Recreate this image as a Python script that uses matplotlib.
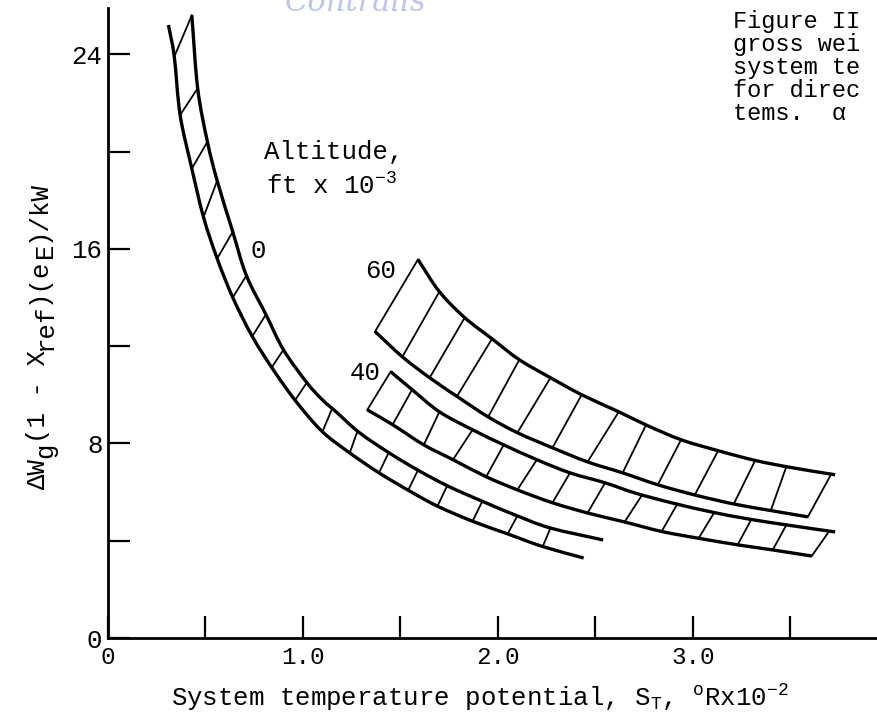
import numpy as np
import matplotlib
matplotlib.use("Agg")
import matplotlib.pyplot as plt
from matplotlib.path import Path
from matplotlib.patches import PathPatch

# ---- values ----
# x: system temperature potential S_T (deg R x 10^-2), y: dWg(1-Xref)(eE)/kW
alt0_lo_x = [0.31, 0.34, 0.37, 0.43, 0.49, 0.56, 0.64, 0.74, 0.85, 0.97, 1.10, 1.24,
             1.39, 1.55, 1.69, 1.87, 2.05, 2.23, 2.44]
alt0_lo_y = [25.2, 23.9, 21.5, 19.3, 17.3, 15.6, 14.0, 12.4, 11.0, 9.67, 8.48, 7.61,
             6.79, 6.03, 5.42, 4.80, 4.28, 3.76, 3.29]
alt0_hi_x = [0.43, 0.46, 0.51, 0.56, 0.64, 0.71, 0.81, 0.90, 1.02, 1.10, 1.17,
             1.29, 1.45, 1.59, 1.74, 1.92, 2.10, 2.27, 2.54]
alt0_hi_y = [25.6, 22.6, 20.4, 18.8, 16.7, 14.9, 13.3, 11.85, 10.5, 9.79, 9.30,
             8.44, 7.57, 6.90, 6.26, 5.62, 5.02, 4.52, 4.03]

alt60_lo_x = [1.37, 1.51, 1.65, 1.80, 1.95, 2.10, 2.28, 2.46, 2.64, 2.82, 3.01, 3.21, 3.40, 3.59]
alt60_lo_y = [12.6, 11.56, 10.7, 9.88, 9.09, 8.44, 7.82, 7.24, 6.79, 6.30, 5.88, 5.51, 5.24, 4.98]
alt60_hi_x = [1.59, 1.70, 1.83, 1.97, 2.11, 2.27, 2.43, 2.62, 2.76, 2.94, 3.13, 3.32, 3.51, 3.73]
alt60_hi_y = [15.56, 14.24, 13.17, 12.30, 11.44, 10.7, 10.0, 9.30, 8.76, 8.15, 7.70, 7.30, 7.00, 6.71]

alt40_lo_x = [1.33, 1.46, 1.62, 1.77, 1.94, 2.10, 2.28, 2.46, 2.65, 2.84, 3.03, 3.23, 3.41, 3.61]
alt40_lo_y = [9.38, 8.77, 7.94, 7.33, 6.63, 6.09, 5.56, 5.14, 4.77, 4.38, 4.10, 3.83, 3.62, 3.37]
alt40_hi_x = [1.45, 1.56, 1.70, 1.87, 2.03, 2.20, 2.37, 2.55, 2.70, 2.89, 3.09, 3.28, 3.48, 3.73]
alt40_hi_y = [10.95, 10.21, 9.30, 8.56, 7.94, 7.33, 6.79, 6.38, 5.97, 5.56, 5.19, 4.90, 4.65, 4.36]

# cross-hatch ties: x where each tie meets the lower and the upper boundary
alt0_tie_lo = [0.34, 0.37, 0.43, 0.49, 0.56, 0.64, 0.74, 0.84, 0.96, 1.10, 1.24, 1.39,
               1.54, 1.69, 1.87, 2.05, 2.23]
alt0_tie_hi = [0.43, 0.46, 0.51, 0.56, 0.64, 0.71, 0.81, 0.90, 1.02, 1.15, 1.28, 1.44,
               1.59, 1.74, 1.92, 2.10, 2.27]
alt60_tie_lo = [1.37, 1.51, 1.65, 1.79, 1.95, 2.10, 2.28, 2.46, 2.64, 2.82, 3.01, 3.21, 3.40, 3.59]
alt60_tie_hi = [1.59, 1.70, 1.83, 1.97, 2.11, 2.27, 2.43, 2.62, 2.76, 2.94, 3.13, 3.32, 3.48, 3.71]
alt40_tie_lo = [1.33, 1.46, 1.62, 1.77, 1.94, 2.10, 2.28, 2.46, 2.65, 2.84, 3.03, 3.23, 3.41, 3.61]
alt40_tie_hi = [1.45, 1.56, 1.70, 1.87, 2.03, 2.20, 2.37, 2.55, 2.74, 2.92, 3.11, 3.30, 3.48, 3.70]

xticks_major = [0, 0.5, 1.0, 1.5, 2.0, 2.5, 3.0, 3.5]
xtick_labels = ["0", "", "1.0", "", "2.0", "", "3.0", ""]
yticks_major = [0, 4, 8, 12, 16, 20, 24]
ytick_labels = ["0", "", "8", "", "16", "", "24"]

# y label typed with full size subscripts: (text, shifted down?)
ylabel_parts = [("\u0394W", 0), ("g", 1), ("(1 - X", 0), ("ref", 1), (")(e", 0), ("E", 1), (")/kW", 0)]
caption = ["Figure II", "gross wei", "system te", "for direc", "tems.  \u03b1"]

plt.rcParams['font.family'] = ['Liberation Mono', 'DejaVu Sans Mono']
plt.rcParams['mathtext.fontset'] = 'custom'
plt.rcParams['mathtext.rm'] = 'Liberation Mono'
plt.rcParams['mathtext.it'] = 'Liberation Mono'
plt.rcParams['mathtext.bf'] = 'Liberation Mono:bold'

W, H = 878, 715
fs = 18.5
fig = plt.figure(figsize=(W / 100, H / 100), dpi=100)
ax = fig.add_axes([108 / W, 77 / H, 770 / W, 630 / H])
ax.set_xlim(0, 3.95)
ax.set_ylim(0, 25.9)

lw_curve = 2.4
lw_tie = 1.3


def smooth(xs, ys):
    # Catmull-Rom curve through the read points, drawn as cubic Bezier pieces
    p = np.column_stack([xs, ys])
    ext = np.vstack([2 * p[0] - p[1], p, 2 * p[-1] - p[-2]])
    verts = [p[0]]
    codes = [Path.MOVETO]
    for i in range(1, len(ext) - 2):
        c1 = ext[i] + (ext[i + 1] - ext[i - 1]) / 6
        c2 = ext[i + 1] - (ext[i + 2] - ext[i]) / 6
        verts += [c1, c2, ext[i + 1]]
        codes += [Path.CURVE4] * 3
    return Path(verts, codes)


def band(lo_x, lo_y, hi_x, hi_y, tie_lo, tie_hi):
    for xs, ys in [(lo_x, lo_y), (hi_x, hi_y)]:
        ax.add_patch(PathPatch(smooth(xs, ys), fill=False, ec='black', lw=lw_curve,
                               capstyle='butt'))
    y_lo = np.interp(tie_lo, lo_x, lo_y)
    y_hi = np.interp(tie_hi, hi_x, hi_y)
    for a, b, c, d in zip(tie_lo, y_lo, tie_hi, y_hi):
        ax.plot([a, c], [b, d], color='black', lw=lw_tie)


band(alt0_lo_x, alt0_lo_y, alt0_hi_x, alt0_hi_y, alt0_tie_lo, alt0_tie_hi)
band(alt60_lo_x, alt60_lo_y, alt60_hi_x, alt60_hi_y, alt60_tie_lo, alt60_tie_hi)
band(alt40_lo_x, alt40_lo_y, alt40_hi_x, alt40_hi_y, alt40_tie_lo, alt40_tie_hi)

# curve labels
ax.text(0.77, 15.9, "0", fontsize=fs, ha='center', va='center')
ax.text(1.40, 15.1, "60", fontsize=fs, ha='center', va='center')
ax.text(1.32, 10.9, "40", fontsize=fs, ha='center', va='center')
ax.text(0.80, 20.0, "Altitude,", fontsize=fs, ha='left', va='center')
ax.text(0.81, 18.6, "ft x 10$^{-3}$", fontsize=fs, ha='left', va='center')

# axes styling
for s in ['top', 'right']:
    ax.spines[s].set_visible(False)
for s in ['left', 'bottom']:
    ax.spines[s].set_linewidth(2.0)
ax.set_xticks(xticks_major)
ax.set_xticklabels(xtick_labels)
ax.set_yticks(yticks_major)
ax.set_yticklabels(ytick_labels)
ax.tick_params(direction='in', length=16, width=1.6, labelsize=17.5, pad=6)
ax.tick_params(axis='y', labelsize=fs, pad=4)

fig.text(480 / W, 1 - 698 / H,
         "System temperature potential, S$_\\mathrm{T}$, $^\\mathrm{o}$Rx10$^{-2}$",
         fontsize=fs, ha='center', va='center')

# rotated y label, laid out one typed piece at a time
adv = 0.6 * fs * 100 / 72
n_chars = sum(len(t) for t, _ in ylabel_parts)
y0 = 335 + n_chars * adv / 2          # pixel row where the label starts (bottom)
k = 0
for t, sub in ylabel_parts:
    fig.text((45 + 7 * sub) / W, 1 - (y0 - k * adv) / H, t, fontsize=fs, rotation=90,
             rotation_mode='anchor', ha='left', va='baseline')
    k += len(t)

# caption fragment cut by the page edge
fig.text(733 / W, 1 - 10 / H, "\n".join(caption), fontsize=17, ha='left', va='top',
         linespacing=1.0)

# watermark
fig.text(0.405, 0.997, "Contrails", fontsize=22, style='italic',
         color='#bcc4f0', ha='center', va='center', family='DejaVu Serif')

fig.savefig("out.png", dpi=100)
